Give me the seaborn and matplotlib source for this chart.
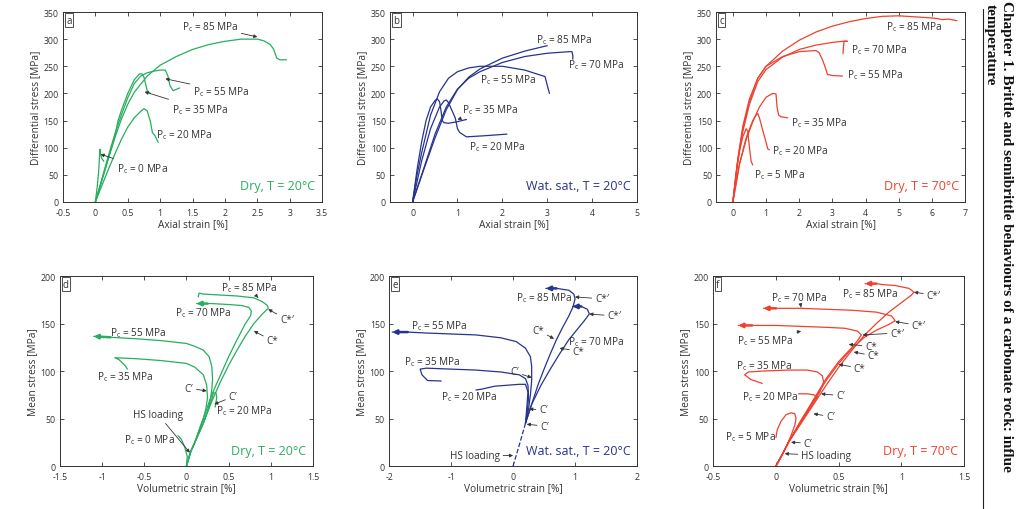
import matplotlib
matplotlib.use('Agg')
import matplotlib.pyplot as plt
import matplotlib.ticker as mticker
import seaborn as sns

#colours of the three test conditions
GREEN = '#27ae5f'
BLUE = '#26338f'
RED = '#f0402e'
INK = '#333333'

#panel a - dry, 20C : axial strain [%] vs differential stress [MPa]
a85_x = [0, 0.1, 0.2, 0.3, 0.4, 0.5, 0.6, 0.8, 1.0, 1.25, 1.5, 1.75, 2.0, 2.25, 2.5, 2.6, 2.7, 2.75, 2.8, 2.85, 2.95]
a85_y = [0, 40, 80, 118, 152, 180, 202, 232, 252, 268, 281, 290, 296, 300, 300, 297, 290, 282, 265, 262, 262]
a55_x = [0, 0.1, 0.2, 0.3, 0.4, 0.5, 0.6, 0.7, 0.8, 0.9, 1.0, 1.08, 1.12, 1.15, 1.2, 1.3]
a55_y = [0, 42, 85, 125, 160, 192, 218, 232, 238, 241, 243, 243, 232, 215, 205, 210]
a35_x = [0, 0.1, 0.2, 0.3, 0.35, 0.4, 0.5, 0.6, 0.68, 0.72, 0.75, 0.78, 0.8, 0.85]
a35_y = [0, 40, 80, 120, 150, 168, 200, 225, 236, 236, 230, 215, 205, 200]
a20_x = [0, 0.1, 0.2, 0.3, 0.4, 0.5, 0.6, 0.7, 0.75, 0.8, 0.85, 0.88, 0.92, 0.97]
a20_y = [0, 30, 60, 88, 115, 138, 155, 167, 172, 168, 148, 128, 122, 110]
a0_x = [0, 0.03, 0.05, 0.07, 0.08, 0.1, 0.13]
a0_y = [0, 30, 55, 97, 88, 80, 75]

#panel b - water saturated, 20C
b85_x = [0, 0.25, 0.5, 0.75, 1.0, 1.25, 1.5, 2.0, 2.5, 3.0]
b85_y = [0, 60, 118, 170, 207, 230, 245, 265, 278, 288]
b70_x = [0, 0.25, 0.5, 0.75, 1.0, 1.25, 1.5, 2.0, 2.5, 3.0, 3.5, 3.55, 3.57, 3.57]
b70_y = [0, 62, 125, 175, 208, 228, 240, 257, 268, 274, 277, 277, 270, 263]
b55_x = [0, 0.1, 0.2, 0.4, 0.6, 0.8, 1.0, 1.25, 1.5, 2.0, 2.5, 2.95, 3.0, 3.05]
b55_y = [0, 50, 90, 160, 203, 228, 240, 247, 250, 250, 243, 231, 215, 200]
b35_x = [0, 0.1, 0.2, 0.3, 0.4, 0.5, 0.55, 0.6, 0.63, 0.66, 0.7, 0.8, 1.0, 1.2]
b35_y = [0, 60, 110, 150, 175, 187, 190, 185, 170, 150, 146, 145, 148, 152]
b20_x = [0, 0.2, 0.4, 0.6, 0.7, 0.75, 0.8, 0.88, 0.95, 1.0, 1.05, 1.2, 1.6, 2.1]
b20_y = [0, 75, 135, 175, 186, 188, 183, 168, 155, 135, 128, 120, 122, 125]

#panel c - dry, 70C
c85_x = [0, 0.15, 0.3, 0.5, 0.75, 1.0, 1.5, 2.0, 2.5, 3.0, 3.5, 4.0, 4.5, 5.0, 5.5, 6.0, 6.15, 6.3, 6.5, 6.75]
c85_y = [0, 80, 140, 190, 228, 250, 278, 298, 313, 324, 332, 338, 342, 343, 341, 339, 338, 336, 337, 334]
c70_x = [0, 0.15, 0.3, 0.5, 0.75, 1.0, 1.5, 2.0, 2.5, 3.0, 3.3, 3.45, 3.35, 3.33, 3.32]
c70_y = [0, 75, 130, 180, 222, 244, 267, 281, 289, 294, 296, 296, 296, 285, 273]
c55_x = [0, 0.15, 0.3, 0.5, 0.75, 1.0, 1.5, 2.0, 2.5, 2.6, 2.7, 2.8, 2.85, 3.0, 3.3]
c55_y = [0, 78, 135, 185, 228, 250, 268, 277, 279, 275, 262, 245, 235, 233, 232]
c35_x = [0, 0.2, 0.4, 0.6, 0.8, 1.0, 1.2, 1.3, 1.33, 1.38, 1.45, 1.65]
c35_y = [0, 70, 115, 148, 175, 193, 200, 199, 175, 160, 157, 155]
c20_x = [0, 0.2, 0.4, 0.6, 0.7, 0.75, 0.8, 0.9, 1.0, 1.05, 1.1]
c20_y = [0, 70, 118, 150, 160, 163, 155, 132, 110, 98, 96]
c5_x = [0, 0.1, 0.2, 0.3, 0.4, 0.45, 0.5, 0.55, 0.6]
c5_y = [0, 55, 95, 120, 135, 130, 100, 75, 68]

#panel d - dry, 20C : volumetric strain [%] vs mean stress [MPa]
d85_x = [0, 0.05, 0.1, 0.2, 0.3, 0.4, 0.5, 0.6, 0.7, 0.8, 0.9, 0.97, 0.96, 0.9, 0.8, 0.6, 0.4, 0.2, 0.15, 0.14]
d85_y = [0, 15, 25, 45, 68, 88, 106, 122, 137, 150, 160, 166, 169, 173, 177, 179, 180, 181, 182, 178]
d70_x = [0, 0.05, 0.1, 0.2, 0.3, 0.4, 0.5, 0.6, 0.7, 0.76, 0.77, 0.74, 0.65, 0.5, 0.3, 0.25, 0.12]
d70_y = [0, 15, 25, 50, 75, 95, 115, 133, 150, 158, 163, 167, 169, 170, 171, 171, 171]
d55_x = [0, 0.05, 0.1, 0.2, 0.25, 0.28, 0.3, 0.31, 0.3, 0.27, 0.2, 0.1, 0, -0.3, -0.6, -0.9, -1.1]
d55_y = [0, 15, 25, 45, 58, 68, 80, 92, 105, 115, 122, 126, 129, 132, 134, 135.5, 136.5]
d35_x = [0, 0.05, 0.1, 0.15, 0.2, 0.23, 0.25, 0.24, 0.2, 0.1, 0, -0.3, -0.6, -0.85, -0.8, -0.73, -0.7]
d35_y = [0, 15, 25, 38, 50, 60, 72, 85, 96, 104, 108, 111, 113, 114, 112, 106, 102]
d20_x = [0, 0.05, 0.1, 0.2, 0.26, 0.3, 0.32, 0.35, 0.36, 0.34]
d20_y = [0, 15, 25, 45, 60, 70, 77, 77, 72, 62]
d0_x = [0, 0.01, -0.02, -0.06, -0.1]
d0_y = [0, 10, 20, 28, 32]

#panel e - water saturated, 20C (hydrostatic loading drawn dashed)
ehs_x = [0, 0.1, 0.2]
ehs_y = [0, 22, 45]
e85_x = [0.2, 0.3, 0.4, 0.5, 0.6, 0.7, 0.8, 0.9, 0.97, 1.0, 0.98, 0.9, 0.7, 0.53]
e85_y = [45, 65, 85, 102, 118, 133, 146, 158, 168, 176, 181, 185, 187, 187]
e70_x = [0.2, 0.3, 0.45, 0.6, 0.75, 0.9, 1.05, 1.15, 1.23, 1.2, 1.1, 0.96]
e70_y = [45, 65, 85, 102, 118, 133, 145, 153, 160, 165, 168, 168]
e55_x = [0.2, 0.25, 0.28, 0.3, 0.3, 0.28, 0.2, 0.05, -0.2, -0.6, -1.0, -1.4, -1.7, -1.95]
e55_y = [45, 60, 75, 90, 105, 115, 124, 131, 135, 138, 139, 140, 141, 141]
e35_x = [0.2, 0.23, 0.25, 0.24, 0.2, 0.1, -0.2, -0.6, -1.0, -1.4, -1.5, -1.47, -1.38, -1.16]
e35_y = [45, 58, 72, 85, 92, 96, 99, 101, 102, 103, 102, 96, 90, 89.5]
e20_x = [0.2, 0.22, 0.24, 0.2, 0.1, -0.1, -0.3, -0.5, -0.6]
e20_y = [45, 60, 78, 86, 86, 85, 84, 81, 80]

#panel f - dry, 70C
f85_x = [0, 0.05, 0.1, 0.2, 0.3, 0.4, 0.5, 0.6, 0.7, 0.8, 0.9, 1.0, 1.08, 1.1, 1.06, 0.95, 0.85, 0.8, 0.71]
f85_y = [0, 12, 25, 45, 65, 85, 104, 121, 137, 150, 162, 172, 180, 183, 187, 190, 191, 192, 192]
f70_x = [0, 0.05, 0.1, 0.2, 0.3, 0.4, 0.5, 0.6, 0.7, 0.8, 0.9, 0.95, 0.92, 0.8, 0.6, 0.4, 0.2, 0.0, -0.1]
f70_y = [0, 12, 25, 47, 69, 90, 108, 123, 135, 143, 149, 153, 158, 162, 164, 165, 166, 166, 166]
f55_x = [0, 0.05, 0.1, 0.2, 0.3, 0.4, 0.5, 0.6, 0.65, 0.68, 0.65, 0.55, 0.4, 0.2, 0, -0.19, -0.3]
f55_y = [0, 12, 25, 48, 70, 92, 110, 124, 132, 138, 142, 145, 146, 147, 148, 148, 148]
f35_x = [0, 0.05, 0.1, 0.2, 0.3, 0.35, 0.38, 0.37, 0.33, 0.25, 0.1, -0.1, -0.22, -0.25, -0.2, -0.11]
f35_y = [0, 12, 25, 48, 68, 78, 88, 95, 99, 101, 101, 100, 99, 96, 91, 87]
f20_x = [0, 0.05, 0.1, 0.2, 0.28, 0.32, 0.33, 0.3, 0.25, 0.18]
f20_y = [0, 12, 25, 46, 62, 70, 73, 75, 76, 76]
f5_x = [0, 0.04, 0.08, 0.12, 0.15, 0.16, 0.15, 0.12, 0.08, 0.04, 0.01, 0.0]
f5_y = [0, 10, 20, 32, 43, 50, 55, 56, 54, 47, 38, 30]

sns.set_style('ticks')
plt.rcParams['font.family'] = ['Open Sans', 'DejaVu Sans']
plt.rcParams['axes.unicode_minus'] = False
plt.rcParams['mathtext.fontset'] = 'custom'
plt.rcParams['mathtext.rm'] = 'Open Sans'

fig = plt.figure(figsize=(10.16, 5.10), dpi=100)


def pc(v):
    return 'P$_\\mathregular{c}$ = %s MPa' % v


def curve(ax, xs, ys, color, ls='-', arrow=False):
    sns.lineplot(x=xs, y=ys, sort=False, estimator=None, color=color, lw=0.9, linestyle=ls, ax=ax)
    if arrow:
        #thick arrow head on the last segment (unloading direction)
        ax.annotate('', xy=(xs[-1], ys[-1]), xytext=(xs[-2], ys[-2]),
                    arrowprops=dict(arrowstyle='-|>', color=color, lw=1.8, mutation_scale=6, shrinkA=0, shrinkB=0))


def note(ax, text, xy, target=None):
    if target is None:
        ax.text(xy[0], xy[1], text, fontsize=7.2, color=INK, va='center', ha='left')
    else:
        ax.annotate(text, xy=target, xytext=xy, fontsize=7.2, color=INK, va='center', ha='left',
                    arrowprops=dict(arrowstyle='-|>', color=INK, lw=0.6, mutation_scale=5, shrinkA=0, shrinkB=0))


def setup(ax, letter, xlim, xticks, ylim, yticks, xlabel, ylabel, cond, color):
    ax.set_xlim(xlim)
    ax.set_ylim(ylim)
    ax.set_xticks(xticks)
    ax.set_yticks(yticks)
    ax.xaxis.set_major_formatter(mticker.FuncFormatter(lambda v, p: '%g' % v))
    ax.yaxis.set_major_formatter(mticker.FuncFormatter(lambda v, p: '%g' % v))
    ax.tick_params(direction='in', top=True, right=True, length=3, width=0.6, labelsize=6.3, colors=INK)
    ax.tick_params(axis='x', pad=4)
    ax.tick_params(axis='y', pad=3)
    for s in ax.spines.values():
        s.set_color(INK)
        s.set_linewidth(0.7)
    ax.set_xlabel(xlabel, fontsize=7.3, color=INK, labelpad=1)
    ax.set_ylabel(ylabel, fontsize=7.3, color=INK, labelpad=2)
    ax.text(0.012, 0.985, letter, transform=ax.transAxes, fontsize=7, color=INK, va='top', ha='left',
            bbox=dict(boxstyle='square,pad=0.15', fc='white', ec=INK, lw=0.6))
    ax.text(0.975, 0.05, cond, transform=ax.transAxes, fontsize=9, color=color, va='bottom', ha='right')


#top row: axial strain
ax = fig.add_axes([0.062, 0.602, 0.255, 0.3725])
for xs, ys in [(a85_x, a85_y), (a55_x, a55_y), (a35_x, a35_y), (a20_x, a20_y), (a0_x, a0_y)]:
    curve(ax, xs, ys, GREEN)
setup(ax, 'a', (-0.5, 3.5), [-0.5, 0, 0.5, 1, 1.5, 2, 2.5, 3, 3.5], (0, 350), range(0, 351, 50),
      'Axial strain [%]', 'Differential stress [MPa]', 'Dry, T = 20°C', GREEN)
note(ax, pc(85), (1.33, 324), (2.5, 304))
note(ax, pc(55), (1.51, 205), (1.08, 227))
note(ax, pc(35), (1.18, 171), (0.76, 203))
note(ax, pc(20), (0.93, 125))
note(ax, pc(0), (0.33, 62), (0.08, 88))

ax = fig.add_axes([0.384, 0.602, 0.243, 0.3725])
for xs, ys in [(b85_x, b85_y), (b70_x, b70_y), (b55_x, b55_y), (b35_x, b35_y), (b20_x, b20_y)]:
    curve(ax, xs, ys, BLUE)
setup(ax, 'b', (-0.5, 5), range(0, 6), (0, 350), range(0, 351, 50),
      'Axial strain [%]', 'Differential stress [MPa]', 'Wat. sat., T = 20°C', BLUE)
note(ax, pc(85), (2.75, 301))
note(ax, pc(70), (3.47, 254))
note(ax, pc(55), (1.5, 227))
note(ax, pc(35), (1.11, 172), (1.0, 152))
note(ax, pc(20), (1.26, 103))

ax = fig.add_axes([0.705, 0.602, 0.245, 0.3725])
for xs, ys in [(c85_x, c85_y), (c70_x, c70_y), (c55_x, c55_y), (c35_x, c35_y), (c20_x, c20_y), (c5_x, c5_y)]:
    curve(ax, xs, ys, RED)
setup(ax, 'c', (-0.5, 7), range(0, 8), (0, 350), range(0, 351, 50),
      'Axial strain [%]', 'Differential stress [MPa]', 'Dry, T = 70°C', RED)
note(ax, pc(85), (4.6, 324))
note(ax, pc(70), (3.55, 281))
note(ax, pc(55), (3.45, 236))
note(ax, pc(35), (1.74, 148))
note(ax, pc(20), (1.19, 96))
note(ax, pc(5), (0.65, 51))

#bottom row: volumetric strain
ax = fig.add_axes([0.059, 0.0843, 0.249, 0.3725])
curve(ax, d85_x, d85_y, GREEN)
curve(ax, d70_x, d70_y, GREEN, arrow=True)
curve(ax, d55_x, d55_y, GREEN, arrow=True)
for xs, ys in [(d35_x, d35_y), (d20_x, d20_y), (d0_x, d0_y)]:
    curve(ax, xs, ys, GREEN)
setup(ax, 'd', (-1.5, 1.5), [-1.5, -1, -0.5, 0, 0.5, 1, 1.5], (0, 200), range(0, 201, 50),
      'Volumetric strain [%]', 'Mean stress [MPa]', 'Dry, T = 20°C', GREEN)
note(ax, pc(85), (0.41, 188), (0.85, 177))
note(ax, pc(70), (-0.14, 162))
note(ax, pc(55), (-0.91, 141))
note(ax, pc(35), (-1.06, 95))
note(ax, 'C*\u2032', (1.11, 154), (0.97, 165))
note(ax, 'C*', (0.95, 132), (0.8, 142))
note(ax, 'C\u2032', (-0.02, 82), (0.24, 79))
note(ax, 'C\u2032', (0.5, 73), (0.33, 65))
note(ax, pc(20), (0.35, 59))
note(ax, 'HS loading', (-0.63, 54), (0.04, 14))
note(ax, pc(0), (-0.74, 28))

ax = fig.add_axes([0.383, 0.0843, 0.244, 0.3725])
curve(ax, ehs_x, ehs_y, BLUE, ls='--')
for xs, ys in [(e85_x, e85_y), (e70_x, e70_y), (e55_x, e55_y)]:
    curve(ax, xs, ys, BLUE, arrow=True)
for xs, ys in [(e35_x, e35_y), (e20_x, e20_y)]:
    curve(ax, xs, ys, BLUE)
setup(ax, 'e', (-2, 2), range(-2, 3), (0, 200), range(0, 201, 50),
      'Volumetric strain [%]', 'Mean stress [MPa]', 'Wat. sat., T = 20°C', BLUE)
note(ax, pc(85), (0.04, 178))
note(ax, 'C*\u2032', (1.32, 176), (1.0, 178))
note(ax, 'C*\u2032', (1.52, 158), (1.23, 160))
note(ax, 'C*', (0.31, 143), (0.66, 134))
note(ax, pc(70), (0.89, 132))
note(ax, 'C*', (0.96, 121), (0.75, 124))
note(ax, pc(55), (-1.64, 148))
note(ax, pc(35), (-1.76, 110))
note(ax, pc(20), (-1.16, 74))
note(ax, 'C\u2032', (-0.04, 99), (0.3, 93))
note(ax, 'C\u2032', (0.42, 59), (0.26, 60))
note(ax, 'C\u2032', (0.44, 42), (0.22, 44))
note(ax, 'HS loading', (-1.02, 11), (0.0, 11))

ax = fig.add_axes([0.702, 0.0843, 0.247, 0.3725])
for xs, ys in [(f85_x, f85_y), (f70_x, f70_y), (f55_x, f55_y)]:
    curve(ax, xs, ys, RED, arrow=True)
for xs, ys in [(f35_x, f35_y), (f20_x, f20_y), (f5_x, f5_y)]:
    curve(ax, xs, ys, RED)
setup(ax, 'f', (-0.5, 1.5), [-0.5, 0, 0.5, 1, 1.5], (0, 200), range(0, 201, 50),
      'Volumetric strain [%]', 'Mean stress [MPa]', 'Dry, T = 70°C', RED)
note(ax, pc(85), (0.53, 182))
note(ax, 'C*\u2032', (1.2, 180), (1.1, 183))
note(ax, pc(70), (-0.04, 178), (0.2, 167))
note(ax, 'C*\u2032', (1.08, 148), (0.95, 152))
note(ax, 'C*\u2032', (0.91, 140), (0.69, 138))
note(ax, pc(55), (-0.31, 133), (0.2, 142))
note(ax, 'C*', (0.71, 126), (0.58, 128))
note(ax, 'C*', (0.73, 116), (0.62, 120))
note(ax, 'C*', (0.62, 103), (0.5, 107))
note(ax, pc(35), (-0.32, 106))
note(ax, pc(20), (-0.27, 74))
note(ax, 'C\u2032', (0.48, 74), (0.36, 76))
note(ax, 'C\u2032', (0.4, 52), (0.3, 55))
note(ax, pc(5), (-0.41, 32))
note(ax, 'C\u2032', (0.22, 24), (0.12, 25))
note(ax, 'HS loading', (0.2, 11), (0.07, 13))

#running header of the book page (the scan cuts it after "influe")
fig.add_artist(plt.Line2D([983 / 1016, 983 / 1016], [0, 1 - 10 / 510], color='#222222', lw=0.8))
fig.text(1006 / 1016, 0.998, 'Chapter 1. Brittle and semibrittle behaviours of a carbonate rock: influe',
         rotation=270, ha='center', va='top', fontsize=11, fontweight='bold', family='Liberation Serif', color='#111111')
fig.text(990 / 1016, 1 - 4 / 510, 'temperature', rotation=270, ha='center', va='top',
         fontsize=11, fontweight='bold', family='Liberation Serif', color='#111111')

fig.savefig('out.png', dpi=100)
